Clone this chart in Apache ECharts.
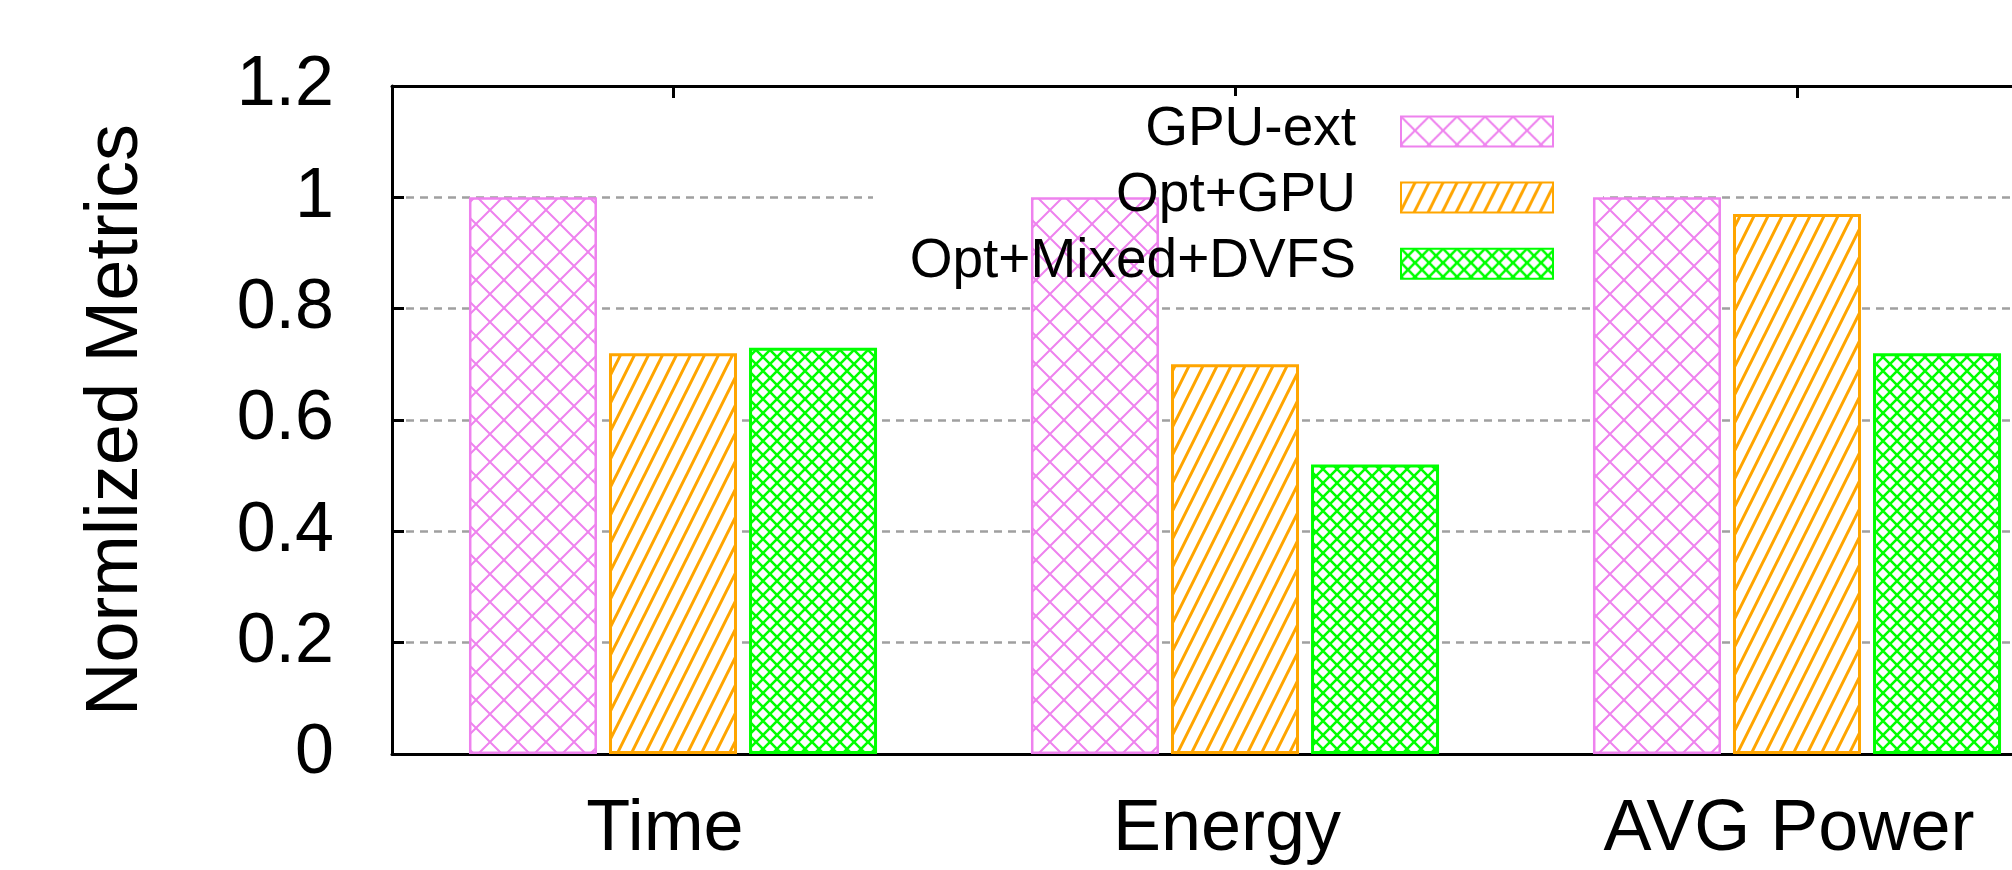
<!DOCTYPE html>
<html><head><meta charset="utf-8">
<script src="https://cdn.jsdelivr.net/npm/echarts@6/dist/echarts.min.js"></script>
<style>html,body{margin:0;padding:0;background:#fff}#c{width:2012px;height:870px}</style>
</head><body><div id="c"></div>
<script>
// ---- data ----
const categories = ['Time', 'Energy', 'AVG Power'];
const seriesNames = ['GPU-ext', 'Opt+GPU', 'Opt+Mixed+DVFS'];
const gpuExt = [1.0, 1.0, 1.0];
const optGpu = [0.72, 0.70, 0.97];
const optMixedDvfs = [0.73, 0.52, 0.72];
const yTicks = [0, 0.2, 0.4, 0.6, 0.8, 1, 1.2];
const yAxisTitle = 'Normlized Metrics';

// ---- patterns ----
function crossPattern(size, color, lw) {
  const c = document.createElement('canvas');
  c.width = size; c.height = size;
  const g = c.getContext('2d');
  g.fillStyle = '#fff'; g.fillRect(0, 0, size, size);
  g.strokeStyle = color; g.lineWidth = lw;
  g.beginPath();
  g.moveTo(-2, -2); g.lineTo(size + 2, size + 2);
  g.moveTo(size + 2, -2); g.lineTo(-2, size + 2);
  g.stroke();
  return c;
}
function steepPattern(w, h, color, lw) {
  const c = document.createElement('canvas');
  c.width = w; c.height = h;
  const g = c.getContext('2d');
  g.fillStyle = '#fff'; g.fillRect(0, 0, w, h);
  g.strokeStyle = color; g.lineWidth = lw;
  g.beginPath();
  for (const off of [-w, 0, w]) {
    g.moveTo(off - w * 0.1, h + h * 0.1);
    g.lineTo(off + w + w * 0.1, -h * 0.1);
  }
  g.stroke();
  return c;
}
const PINK = '#EE82EE', ORANGE = '#FFA500', GREEN = '#00FF00';
const pinkFill = { image: crossPattern(28, PINK, 2), repeat: 'repeat' };
const orangeFill = { image: steepPattern(14, 28, ORANGE, 3), repeat: 'repeat' };
const greenFill = { image: crossPattern(14, GREEN, 2.6), repeat: 'repeat' };

const FONT = 'Liberation Sans';
const chart = echarts.init(document.getElementById('c'), null, { renderer: 'canvas' });

function barSeries(name, data, fill, border, bw) {
  return {
    name, type: 'bar', data,
    barWidth: 128, barGap: '9.4%',
    itemStyle: { color: fill, borderColor: border, borderWidth: bw },
    emphasis: { disabled: true },
    animation: false
  };
}

chart.setOption({
  animation: false,
  backgroundColor: '#fff',
  grid: { left: 392, top: 86, width: 1686, height: 668, containLabel: false, outerBoundsMode: 'none' },
  graphic: [{
    type: 'rect', z: 1, silent: true,
    shape: { x: 873, y: 96, width: 730, height: 194 },
    style: { fill: '#fff' }
  }],
  legend: {
    orient: 'vertical', align: 'right',
    right: 458, top: 102, padding: 0,
    itemWidth: 152, itemHeight: 30, itemGap: 11.1,
    icon: 'rect', z: 4,
    data: seriesNames,
    formatter: '{t|{name}}',
    textStyle: {
      fontFamily: FONT, fontSize: 55, color: '#000',
      rich: { t: { fontFamily: FONT, fontSize: 55, color: '#000', padding: [0, 40, 4, 0] } }
    },
    selectedMode: false
  },
  xAxis: [{
    type: 'category', data: categories, position: 'bottom',
    axisLine: { lineStyle: { color: '#000', width: 3 } },
    axisTick: { show: true, inside: true, alignWithLabel: true, length: 12, lineStyle: { color: '#000', width: 3 } },
    axisLabel: { fontFamily: FONT, fontSize: 72, color: '#000', margin: 40, padding: [0, 16, 0, 0] },
    splitLine: { show: false }
  }, {
    type: 'category', data: categories, position: 'top',
    axisLine: { lineStyle: { color: '#000', width: 3 } },
    axisTick: { show: true, inside: true, alignWithLabel: true, length: 12, lineStyle: { color: '#000', width: 3 } },
    axisLabel: { show: false },
    splitLine: { show: false }
  }],
  yAxis: {
    type: 'value',
    min: yTicks[0], max: yTicks[yTicks.length - 1], interval: yTicks[1] - yTicks[0],
    name: yAxisTitle, nameLocation: 'middle', nameGap: 238, nameRotate: 90,
    nameTextStyle: { fontFamily: FONT, fontSize: 74, color: '#000' },
    axisLine: { show: true, lineStyle: { color: '#000', width: 3 } },
    axisTick: { show: true, inside: true, length: 12, lineStyle: { color: '#000', width: 3 } },
    axisLabel: { fontFamily: FONT, fontSize: 70, color: '#000', margin: 58, padding: [0, 0, 20, 0] },
    splitLine: { show: true, lineStyle: { color: '#a0a0a0', width: 2.5, type: [8, 6] } }
  },
  series: [
    barSeries(seriesNames[0], gpuExt, pinkFill, PINK, 2.5),
    barSeries(seriesNames[1], optGpu, orangeFill, ORANGE, 3),
    barSeries(seriesNames[2], optMixedDvfs, greenFill, GREEN, 3)
  ]
});
</script>
</body></html>
